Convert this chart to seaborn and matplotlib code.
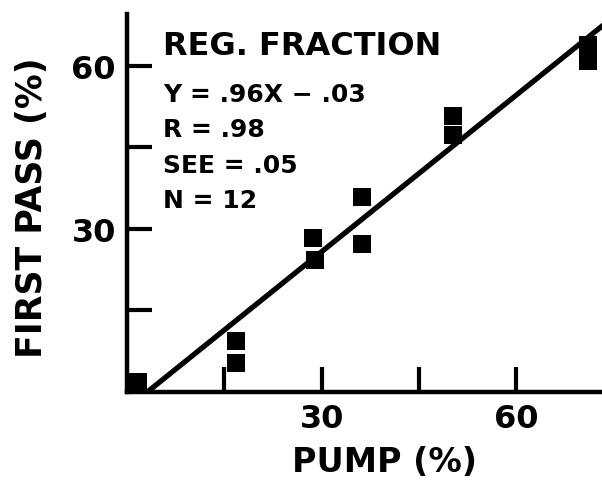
import numpy as np
import pandas as pd
import matplotlib
matplotlib.use("Agg")
import matplotlib.pyplot as plt
import seaborn as sns

# Data
pump = [1.2, 1.7, 16.8, 16.8, 28.7, 28.9, 36.2, 36.2, 50.2, 50.2, 71.1, 71.1]
first_pass = [1.2, 1.8, 9.3, 5.4, 28.4, 24.3, 35.8, 27.2, 50.8, 47.3, 63.8, 60.9]
slope = 0.96
intercept = -3.0
x_ticks = [15, 30, 45, 60]
x_tick_labels = ["", "30", "", "60"]
y_ticks = [15, 30, 45, 60]
y_tick_labels = ["", "30", "", "60"]
annot_title = "REG. FRACTION"
annot_lines = ["Y = .96X − .03", "R = .98", "SEE = .05", "N = 12"]

sns.set_style("ticks")
plt.rcParams['font.family'] = ['DejaVu Sans']
plt.rcParams['text.color'] = 'black'
plt.rcParams['axes.labelcolor'] = 'black'

fig = plt.figure(figsize=(6.02, 4.81), dpi=100)
ax = fig.add_axes([127/602, 1-393/481, 475/602, 378/481])

df = pd.DataFrame({"pump": pump, "first_pass": first_pass})
sns.scatterplot(data=df, x="pump", y="first_pass", marker="s", s=175,
                color="black", edgecolor="black", linewidth=0, ax=ax,
                clip_on=False, zorder=3)

x0 = -intercept / slope
xl = np.array([x0, 75.0])
line_df = pd.DataFrame({"x": xl, "y": slope * xl + intercept})
sns.lineplot(data=line_df, x="x", y="y", color="black", linewidth=3.8, ax=ax)

ax.set_xlim(0, 73.2)
ax.set_ylim(0, 69.5)
sns.despine(ax=ax)
for s in ["left", "bottom"]:
    ax.spines[s].set_linewidth(3.2)
    ax.spines[s].set_color("black")
ax.set_xticks(x_ticks)
ax.set_xticklabels(x_tick_labels)
ax.set_yticks(y_ticks)
ax.set_yticklabels(y_tick_labels)
ax.tick_params(direction="in", length=18, width=3, labelsize=23, pad=8,
               color="black", labelcolor="black")
for lab in ax.get_xticklabels() + ax.get_yticklabels():
    lab.set_fontweight("bold")

ax.set_xlabel("PUMP (%)", fontsize=24, fontweight="bold", labelpad=0)
ax.set_ylabel("FIRST PASS (%)", fontsize=25, fontweight="bold", labelpad=0)
ax.xaxis.set_label_coords(0.543, -0.14)
ax.yaxis.set_label_coords(-0.165, 0.49)

fig.text(163/602, 1-55/481, annot_title, fontsize=23, fontweight="bold",
         va="baseline", ha="left")
for i, t in enumerate(annot_lines):
    fig.text(163/602, 1-(102 + 35.3*i)/481, t, fontsize=18, fontweight="bold",
             va="baseline", ha="left")

fig.savefig("out.png", dpi=100)
